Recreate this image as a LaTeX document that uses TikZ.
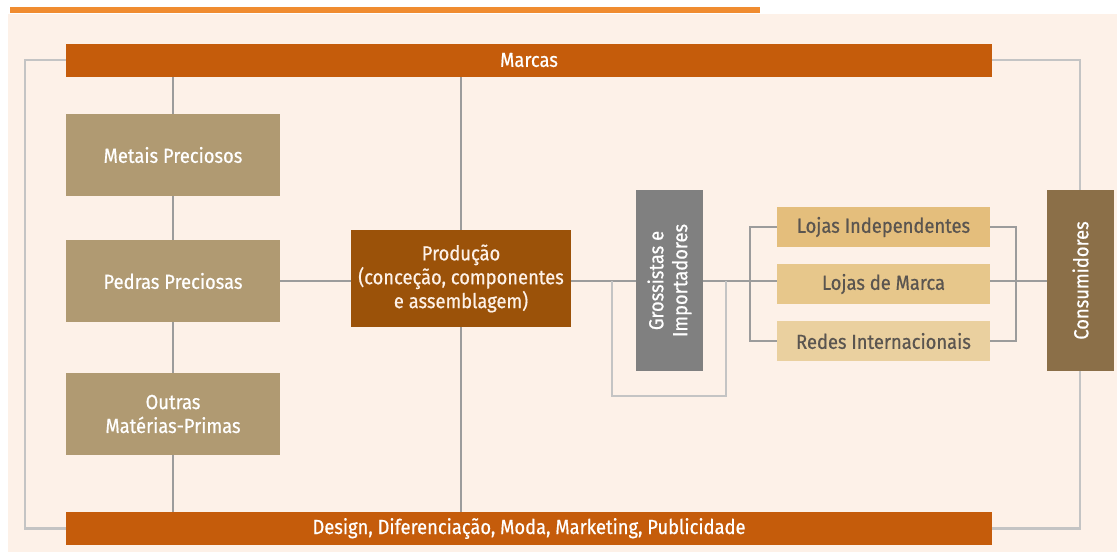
\documentclass[tikz,border=0pt]{standalone}
\usepackage{fontspec}
\setmainfont[FakeStretch=0.9,FakeBold=0.6]{Fira Sans}
\usetikzlibrary{positioning,backgrounds,calc}

\definecolor{peach}{HTML}{FDF1E8}
\definecolor{topline}{HTML}{F08C30}
\definecolor{barorange}{HTML}{C55C0B}
\definecolor{prodbrown}{HTML}{9B5209}
\definecolor{rawtan}{HTML}{B09A72}
\definecolor{grossgray}{HTML}{808080}
\definecolor{shopA}{HTML}{E4BE7C}
\definecolor{shopB}{HTML}{E7C78B}
\definecolor{shopC}{HTML}{EAD09F}
\definecolor{shoptext}{HTML}{5A5550}
\definecolor{consbrown}{HTML}{8B6F48}
\definecolor{linegray}{HTML}{9C9C9C}
\definecolor{framegray}{HTML}{C4C4C4}

\tikzstyle{bar} = [rectangle, fill=barorange, text=white, minimum width=23.15cm, minimum height=0.825cm, inner sep=0pt]
\tikzstyle{raw} = [rectangle, fill=rawtan, text=white, align=center, minimum width=5.35cm, minimum height=2.05cm, inner sep=0pt]
\tikzstyle{prod} = [rectangle, fill=prodbrown, text=peach, align=center, minimum width=5.5cm, minimum height=2.425cm, inner sep=0pt]
\tikzstyle{shop} = [rectangle, text=shoptext, minimum width=5.325cm, minimum height=1cm, inner sep=0pt]
\tikzstyle{tall} = [rectangle, rotate=90, text=white, align=center, minimum width=4.525cm, minimum height=1.675cm, inner sep=0pt]
\tikzstyle{link} = [draw=linegray, line width=1.6pt]
\tikzstyle{frame} = [draw=framegray, line width=1.6pt]

\begin{document}
\begin{tikzpicture}[x=0.025cm,y=-0.025cm,font=\fontsize{14.5}{17}\selectfont,node distance=1.425cm]
  \useasboundingbox (0,0) rectangle (1117,555);

  \node[bar] (marcas) at (529,60) {Marcas};
  \node[bar] (design) at (529,528.5) {Design, Diferenciação, Moda, Marketing, Publicidade};
  \node[raw] (metais) at (173,155) {Metais Preciosos};
  \node[raw] (pedras) at (173,281) {Pedras Preciosas};
  \node[raw] (outras) at (173,414) {Outras\\Matérias-Primas};
  \node[prod] (prod) at (461,278.5) {Produção\\(conceção, componentes\\e assemblagem)};
  \node[tall, fill=grossgray] (gross) at (669.5,280.5) {Grossistas e\\Importadores};
  \node[shop, fill=shopA] (lind) at (883.5,227) {Lojas Independentes};
  \node[shop, fill=shopB] (lmarca) [below of=lind] {Lojas de Marca};
  \node[shop, fill=shopC] (redes) [below of=lmarca] {Redes Internacionais};
  \node[tall, fill=consbrown] (cons) at (1080.5,280.5) {Consumidores};

  \coordinate (fl) at (25,0);
  \coordinate (fr) at (1080,0);
  \coordinate (mid) at (0,281);

  \begin{scope}[on background layer]
    \fill[white] (0,0) rectangle (1117,555);
    \fill[peach] (8,14) rectangle (1117,552);
    \fill[topline] (10,7) rectangle (760,13);

    % outer frame between the two bars
    \draw[frame] (marcas.west) -| (fl |- design.west) -- (design.west);
    \draw[frame] (marcas.east) -| (fr |- design.east) -- (design.east);

    % verticals
    \path[link] (marcas.south -| metais) edge (design.north -| metais);
    \path[link] (marcas.south -| prod) edge (design.north -| prod);

    % main chain (rotated boxes: north is the left side)
    \path[link] (pedras.east |- mid) edge (prod.west |- mid);
    \path[link] (prod.east |- mid) edge (gross.north |- mid);
    \path[link] (gross.south |- mid) edge (lmarca.west |- mid);
    \path[link] (lmarca.east |- mid) edge (cons.north |- mid);
    \draw[link] (lind.west) -- ++(-27,0) |- (redes.west);
    \draw[link] (lind.east) -- ++(26,0) |- (redes.east);
    \draw[frame] (gross.north |- mid) ++(-24,0) -- ++(0,115) -| ($(gross.south |- mid)+(23,0)$);
  \end{scope}
\end{tikzpicture}
\end{document}
